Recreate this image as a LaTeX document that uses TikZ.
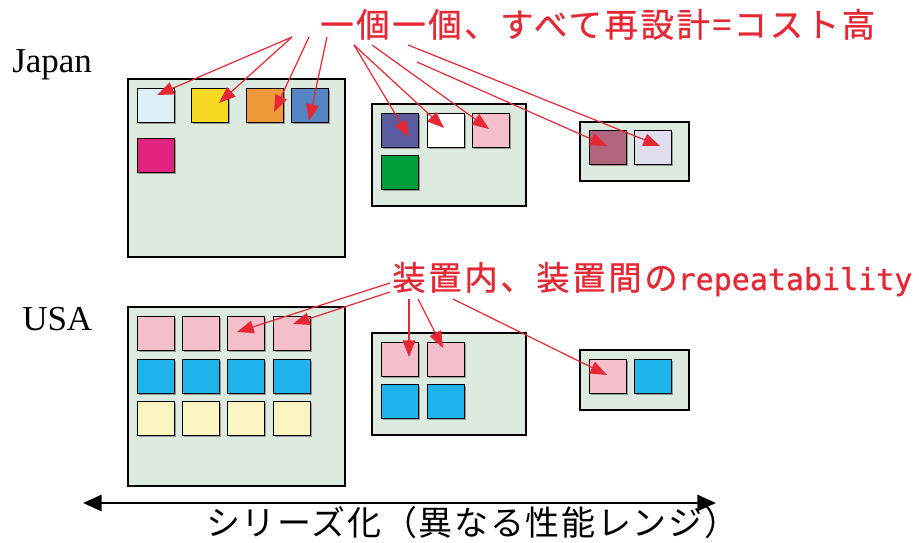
\documentclass[tikz,border=0pt]{standalone}
\usepackage{fontspec}
\setmainfont{Liberation Serif}
\newfontfamily\jpred[LetterSpace=8,FakeBold=0.8]{Noto Sans CJK JP}
\newfontfamily\jpblk[LetterSpace=5]{Noto Sans CJK JP}
\newfontfamily\latmono[FakeBold=0.8]{DejaVu Sans Mono}
\usetikzlibrary{arrows.meta,shadows}
\definecolor{panelgreen}{RGB}{221,234,223}
\definecolor{clightblue}{RGB}{221,238,246}
\definecolor{cyellow}{RGB}{246,217,35}
\definecolor{corange}{RGB}{240,153,58}
\definecolor{cblue}{RGB}{85,132,195}
\definecolor{cmagenta}{RGB}{227,35,128}
\definecolor{cpurple}{RGB}{91,92,160}
\definecolor{cpink}{RGB}{244,191,203}
\definecolor{cgreen}{RGB}{0,158,58}
\definecolor{cmauve}{RGB}{176,100,126}
\definecolor{clavender}{RGB}{223,221,238}
\definecolor{ccyan}{RGB}{31,181,236}
\definecolor{cpaleyellow}{RGB}{251,245,194}
\definecolor{lblred}{RGB}{230,40,52}
\begin{document}
\begin{tikzpicture}[x=0.75pt,y=-0.75pt,
  panel/.style={draw=black, line width=1.1pt, fill=panelgreen,
    drop shadow={shadow xshift=0.8pt, shadow yshift=-0.8pt, fill=black!45, opacity=1}},
  chip/.style={draw=black, line width=1.1pt, anchor=north west, inner sep=0pt,
    minimum width=27.75pt, minimum height=25.5pt,
    drop shadow={shadow xshift=0.8pt, shadow yshift=-0.8pt, fill=black!40, opacity=1}},
  redarrow/.style={draw=lblred, line width=0.9pt, -{Triangle[length=12.5pt,width=9.5pt]}},
  country/.style={font=\fontsize{26.25pt}{30pt}\selectfont, anchor=base west, inner sep=0pt},
  redlabel/.style={text=lblred, anchor=base west, inner sep=0pt}
]
\useasboundingbox (0,0) rectangle (919,542);

% panels
\path[panel] (128,79) rectangle (345,257);
\path[panel] (372,104) rectangle (526,206);
\path[panel] (580,122) rectangle (689,181);
\path[panel] (128,307) rectangle (345,486);
\path[panel] (372,333) rectangle (526,435);
\path[panel] (580,350) rectangle (689,410);

% Japan chips
\node[chip, fill=clightblue] (j1) at (137,88) {};
\node[chip, fill=cyellow] (j2) at (191,88) {};
\node[chip, fill=corange] (j3) at (246,88) {};
\node[chip, fill=cblue] (j4) at (291,88) {};
\node[chip, fill=cmagenta] (j5) at (137,138) {};
\node[chip, fill=cpurple] (m1) at (381,113) {};
\node[chip, fill=white] (m2) at (427,113) {};
\node[chip, fill=cpink] (m3) at (472,113) {};
\node[chip, fill=cgreen] (m4) at (381,155) {};
\node[chip, fill=cmauve] (r1) at (589,130) {};
\node[chip, fill=clavender] (r2) at (634,130) {};

% USA chips
\foreach \c/\x in {1/137,2/182,3/227,4/273}{
  \node[chip, fill=cpink] (ua\c) at (\x,316) {};
  \node[chip, fill=ccyan] (ub\c) at (\x,359) {};
  \node[chip, fill=cpaleyellow] (uc\c) at (\x,401) {};
}
\node[chip, fill=cpink] (um1) at (381,342) {};
\node[chip, fill=cpink] (um2) at (427,342) {};
\node[chip, fill=ccyan] (um3) at (381,384) {};
\node[chip, fill=ccyan] (um4) at (427,384) {};
\node[chip, fill=cpink] (ur1) at (589,359) {};
\node[chip, fill=ccyan] (ur2) at (634,359) {};

% country labels
\node[country] (japan) at (12,73) {Japan};
\node[country] (usa) at (22,330) {USA};

% red labels
\node[redlabel] (lab1) at (320,37) {\jpred\fontsize{25pt}{29pt}\selectfont 一個一個、すべて再設計=コスト高};
\node[redlabel] (lab2) at (392,290) {\jpred\fontsize{25pt}{29pt}\selectfont 装置内、装置間の\latmono\fontsize{22.5pt}{26pt}\selectfont repeatability};

% arrow sources
\coordinate (s1) at (292,37);
\coordinate (s2) at (309,37);
\coordinate (s3) at (327,37);
\coordinate (s4) at (354,45);
\coordinate (s5) at (372,45);
\coordinate (s6) at (408,45);
\coordinate (s7) at (417,62);
% arrow tips
\coordinate (t1) at (157,95);
\coordinate (t2) at (219,103);
\coordinate (t3) at (274,112);
\coordinate (t4) at (309,121);
\coordinate (t5) at (409,137);
\coordinate (t6) at (444,128);
\coordinate (t7) at (489,129);
\coordinate (t8) at (607,146);
\coordinate (t9) at (660,146);

\draw[redarrow] (s1) -- (t1);
\draw[redarrow] (s1) -- (t2);
\draw[redarrow] (s2) -- (t3);
\draw[redarrow] (s3) -- (t4);
\draw[redarrow] (s4) -- (t5);
\draw[redarrow] (s4) -- (t6);
\draw[redarrow] (s5) -- (t7);
\draw[redarrow] (s7) -- (t8);
\draw[redarrow] (s6) -- (t9);

% second label arrows
\coordinate (u1) at (390,283);
\coordinate (u2) at (390,292);
\coordinate (u3) at (409,299);
\coordinate (u4) at (418,299);
\coordinate (u5) at (453,299);
\coordinate (v1) at (237,332);
\coordinate (v2) at (293,324);
\coordinate (v3) at (409,357);
\coordinate (v4) at (443,348);
\coordinate (v5) at (607,375);
\draw[redarrow] (u1) -- (v1);
\draw[redarrow] (u2) -- (v2);
\draw[redarrow] (u3) -- (v3);
\draw[redarrow] (u4) -- (v4);
\draw[redarrow] (u5) -- (v5);

% bottom axis
\coordinate (axl) at (83,503);
\coordinate (axr) at (716,503);
\draw[line width=2.2pt, {Triangle[length=14pt,width=12pt]}-{Triangle[length=14pt,width=12pt]}] (axl) -- (axr);
\node[anchor=base west, inner sep=0pt] (axis) at (206,535) {\jpblk\fontsize{25.5pt}{29pt}\selectfont シリーズ化（異なる性能レンジ）};
\end{tikzpicture}
\end{document}
